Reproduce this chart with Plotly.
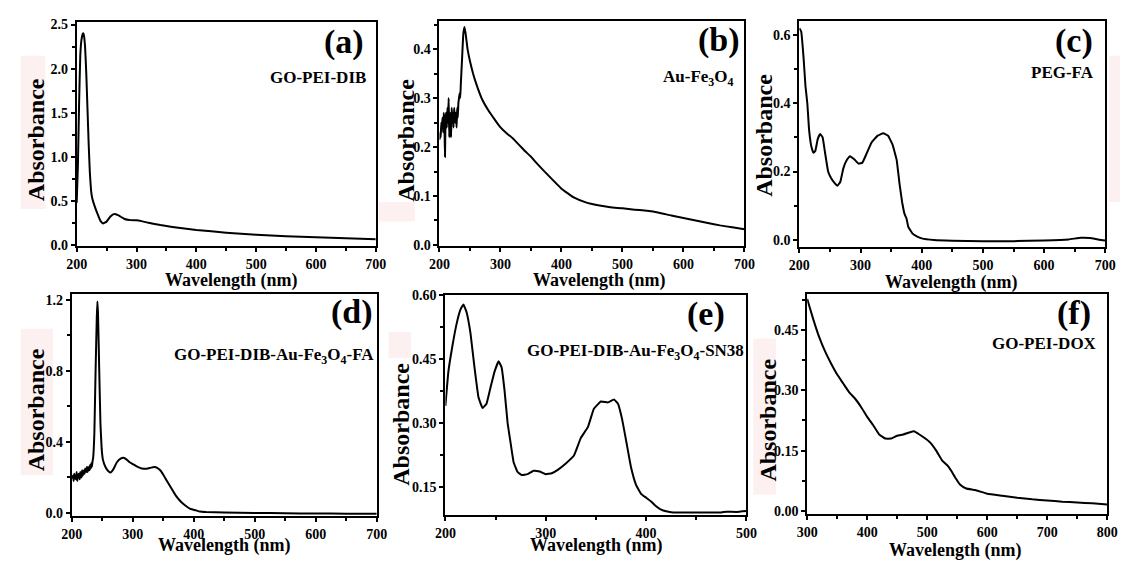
import plotly.graph_objects as go

W, H = 1131, 568

# ---------------- data ----------------
a_x = [200, 202, 204, 206, 208, 210, 211, 212, 214, 216, 218, 220, 222, 224, 226, 230, 235, 240, 244, 250, 256, 262,
       270, 280, 290, 300, 310, 320, 340, 360, 380, 400, 450, 500, 550, 600, 650, 700]
a_y = [0.48, 0.9, 1.6, 2.15, 2.33, 2.39, 2.40, 2.38, 2.25, 1.95, 1.55, 1.15, 0.82, 0.62, 0.53, 0.44, 0.35, 0.27, 0.245,
       0.265, 0.32, 0.35, 0.335, 0.295, 0.282, 0.28, 0.268, 0.252, 0.226, 0.205, 0.186, 0.17, 0.14, 0.117, 0.1,
       0.088, 0.076, 0.066]

b_x = [200, 201, 202, 203, 204, 205, 206, 207, 208, 209, 210, 211, 212, 213, 214, 215, 216, 217, 218, 219, 220, 221,
       222, 223, 224, 225, 226, 227, 228, 229, 230, 231, 232, 233, 234, 235, 237, 239, 241, 243, 246, 250, 255, 260,
       270, 280, 290, 300, 310, 320, 330, 340, 350, 360, 380, 400, 420, 440, 460, 480, 500, 520, 540, 560, 580, 600,
       620, 640, 660, 680, 700]
b_y = [0.215, 0.23, 0.22, 0.25, 0.24, 0.26, 0.23, 0.27, 0.25, 0.18, 0.26, 0.27, 0.24, 0.28, 0.25, 0.30, 0.22, 0.27,
       0.26, 0.22, 0.28, 0.25, 0.27, 0.24, 0.28, 0.26, 0.25, 0.27, 0.24, 0.28, 0.26, 0.29, 0.30, 0.31, 0.30, 0.33,
       0.38, 0.43, 0.445, 0.43, 0.40, 0.375, 0.35, 0.33, 0.297, 0.275, 0.257, 0.24, 0.228, 0.218, 0.205, 0.192,
       0.18, 0.166, 0.14, 0.115, 0.097, 0.087, 0.081, 0.077, 0.075, 0.072, 0.07, 0.066, 0.06, 0.055, 0.05, 0.045,
       0.04, 0.036, 0.032]

c_x = [200, 203, 207, 210, 213, 216, 220, 223, 226, 230, 234, 238, 242, 247, 252, 258, 262, 267, 272, 278, 283, 290,
       297, 303, 310, 318, 328, 337, 345, 352, 356, 359, 364, 368, 372, 375, 378, 385, 392, 400, 420, 450, 500, 550,
       600, 640, 660, 675, 690, 700]
c_y = [0.62, 0.61, 0.53, 0.45, 0.40, 0.32, 0.27, 0.255, 0.26, 0.295, 0.31, 0.30, 0.255, 0.2, 0.18, 0.165, 0.158, 0.17,
       0.21, 0.235, 0.245, 0.235, 0.223, 0.226, 0.253, 0.285, 0.305, 0.312, 0.305, 0.28, 0.255, 0.234, 0.16, 0.11,
       0.075, 0.063, 0.038, 0.018, 0.01, 0.004, -0.001, -0.003, -0.004, -0.004, -0.002, 0.001, 0.006, 0.005, 0.0,
       -0.002]

d_x = [200, 202, 203, 204, 205, 207, 208, 209, 210, 212, 213, 214, 216, 217, 218, 220, 221, 222, 224, 225, 226, 228,
       229, 230, 231, 232, 233, 234, 235, 237, 239, 241, 242, 243, 245, 247, 249, 251, 255, 260, 264, 268, 274, 280,
       285, 290, 295, 300, 305, 310, 315, 320, 325, 330, 336, 340, 345, 350, 355, 363, 370, 377, 384, 390, 395, 403,
       410, 420, 450, 500, 550, 600, 650, 700]
d_y = [0.195, 0.21, 0.18, 0.22, 0.20, 0.19, 0.23, 0.18, 0.21, 0.22, 0.19, 0.23, 0.20, 0.24, 0.21, 0.24, 0.22, 0.25,
       0.23, 0.26, 0.23, 0.26, 0.24, 0.27, 0.25, 0.28, 0.26, 0.29, 0.31, 0.45, 0.8, 1.1, 1.19, 1.12, 0.8, 0.5, 0.36,
       0.3, 0.26, 0.235, 0.228, 0.245, 0.285, 0.305, 0.31, 0.3, 0.285, 0.275, 0.265, 0.256, 0.25, 0.248, 0.25, 0.255,
       0.258, 0.253, 0.24, 0.215, 0.185, 0.14, 0.1, 0.07, 0.047, 0.032, 0.022, 0.015, 0.008, 0.005, 0.002, 0.0,
       -0.002, -0.003, -0.004, -0.005]

e_x = [200, 203, 207, 211, 215, 218, 221, 225, 229, 233, 237, 241, 245, 249, 253, 256, 259, 262, 265, 268, 272, 276,
       282, 288, 294, 300, 306, 312, 320, 328, 335, 342, 348, 355, 362, 368, 372, 376, 380, 385, 390, 395, 400, 405,
       410, 415, 420, 425, 440, 460, 475, 480, 490, 500]
e_y = [0.34, 0.42, 0.48, 0.53, 0.565, 0.577, 0.56, 0.51, 0.43, 0.36, 0.335, 0.345, 0.383, 0.42, 0.444, 0.43, 0.375,
       0.3, 0.253, 0.208, 0.185, 0.178, 0.18, 0.188, 0.186, 0.18, 0.182, 0.19, 0.205, 0.223, 0.265, 0.29, 0.333,
       0.35, 0.348, 0.355, 0.345, 0.31, 0.26, 0.196, 0.155, 0.134, 0.125, 0.116, 0.105, 0.097, 0.093, 0.091, 0.09,
       0.09, 0.0905, 0.092, 0.0915, 0.0935]

f_x = [300, 310, 320, 330, 340, 350, 360, 370, 380, 390, 400, 410, 420, 430, 440, 450, 460, 470, 478, 485, 495, 505,
       515, 525, 535, 540, 548, 555, 565, 580, 600, 625, 650, 675, 700, 725, 750, 775, 800]
f_y = [0.527, 0.477, 0.432, 0.396, 0.366, 0.339, 0.317, 0.295, 0.279, 0.258, 0.234, 0.213, 0.19, 0.18, 0.18, 0.187,
       0.19, 0.195, 0.198, 0.192, 0.182, 0.17, 0.15, 0.125, 0.111, 0.1, 0.08, 0.065, 0.056, 0.052, 0.043, 0.038,
       0.033, 0.029, 0.026, 0.023, 0.021, 0.019, 0.016]

panel_tags = ["(a)", "(b)", "(c)", "(d)", "(e)", "(f)"]
sample_names = ["GO-PEI-DIB", "Au-Fe<sub>3</sub>O<sub>4</sub>", "PEG-FA",
                "GO-PEI-DIB-Au-Fe<sub>3</sub>O<sub>4</sub>-FA",
                "GO-PEI-DIB-Au-Fe<sub>3</sub>O<sub>4</sub>-SN38", "GO-PEI-DOX"]
x_ticks = [[200, 300, 400, 500, 600, 700]] * 4 + [[200, 300, 400, 500], [300, 400, 500, 600, 700, 800]]
y_ticks = [[0.0, 0.5, 1.0, 1.5, 2.0, 2.5], [0.0, 0.1, 0.2, 0.3, 0.4], [0.0, 0.2, 0.4, 0.6],
           [0.0, 0.4, 0.8, 1.2], [0.15, 0.30, 0.45, 0.60], [0.00, 0.15, 0.30, 0.45]]
y_dec = [1, 1, 1, 1, 2, 2]
series = [(a_x, a_y), (b_x, b_y), (c_x, c_y), (d_x, d_y), (e_x, e_y), (f_x, f_y)]

# ---------------- layout geometry (pixels) ----------------
boxes = [(67, 372, 15, 245), (437, 748, 14, 245), (804, 1116, 14, 246),
         (62, 373, 294, 522), (443, 750, 295, 521), (812, 1118, 294, 520)]
x_ranges = [[200, 700], [200, 700], [200, 700], [200, 700], [200, 500], [300, 800]]
y_ranges = [[-0.011, 2.533], [-0.002, 0.458], [-0.021, 0.642], [-0.018, 1.233], [0.084, 0.60], [-0.008, 0.54]]
tag_pos = [(362, 36), (745, 34), (1105, 35), (371, 313), (730, 315), (1103, 314)]
name_pos = [(364, 72), (739, 73), (1107, 67), (372, 358), (750, 354), (1110, 345)]
ytitle_pos = [(25, 136), (402, 137), (768, 132), (25, 413), (398, 428), (772, 423)]
xtitle_pos = [(225, 280), (600, 280), (959, 282), (218, 552), (597, 552), (963, 557)]


def px(x):
    return x / W


def py(y):
    return 1 - y / H


FONT = "Liberation Serif"
fig = go.Figure()
ann = []
shapes = []

for i in range(6):
    n = "" if i == 0 else str(i + 1)
    fig.add_trace(go.Scatter(x=series[i][0], y=series[i][1], mode="lines",
                             line=dict(color="black", width=2, shape="spline", smoothing=0.3),
                             xaxis="x" + n, yaxis="y" + n, showlegend=False))
    l, r, t, b = boxes[i]
    dx = x_ticks[i][1] - x_ticks[i][0]
    dy = y_ticks[i][1] - y_ticks[i][0]
    common = dict(showgrid=False, zeroline=False, showline=True, linecolor="black", linewidth=2,
                  mirror=True, ticks="outside", ticklen=4, tickwidth=2, tickcolor="black",
                  tickfont=dict(family=FONT, size=14, color="black"))
    fig.layout["xaxis" + n] = dict(domain=[px(l), px(r)], range=x_ranges[i], anchor="y" + n,
                                   tickvals=x_ticks[i],
                                   ticktext=["<b>%d</b>" % v for v in x_ticks[i]],
                                   minor=dict(dtick=dx / 2, tick0=x_ticks[i][0], ticks="outside",
                                              ticklen=3, tickwidth=1.5, tickcolor="black"),
                                   **common)
    fig.layout["yaxis" + n] = dict(domain=[py(b), py(t)], range=y_ranges[i], anchor="x" + n,
                                   tickvals=y_ticks[i],
                                   ticktext=["<b>%.*f</b>" % (y_dec[i], v) for v in y_ticks[i]],
                                   minor=dict(dtick=dy / 2, tick0=y_ticks[i][0], ticks="outside",
                                              ticklen=3, tickwidth=1.5, tickcolor="black"),
                                   **common)
    ann.append(dict(x=px(tag_pos[i][0]), y=py(tag_pos[i][1]), xref="paper", yref="paper",
                    text="<b>%s</b>" % panel_tags[i], showarrow=False, xanchor="right", yanchor="middle",
                    font=dict(family=FONT, size=34, color="black")))
    ann.append(dict(x=px(name_pos[i][0]), y=py(name_pos[i][1]), xref="paper", yref="paper",
                    text="<b>%s</b>" % sample_names[i], showarrow=False, xanchor="right", yanchor="middle",
                    font=dict(family=FONT, size=17, color="black")))
    ann.append(dict(x=px(ytitle_pos[i][0]), y=py(ytitle_pos[i][1]), xref="paper", yref="paper",
                    text="<b>Absorbance</b>", showarrow=False, textangle=-90,
                    xanchor="center", yanchor="middle",
                    font=dict(family=FONT, size=24, color="black")))
    ann.append(dict(x=px(xtitle_pos[i][0]), y=py(xtitle_pos[i][1]), xref="paper", yref="paper",
                    text="<b>Wavelength (nm)</b>", showarrow=False,
                    xanchor="center", yanchor="middle",
                    font=dict(family=FONT, size=18, color="black")))

# faint pink patches seen behind some labels in the original scan
pink = [(10, 35, 50, 207), (375, 412, 200, 220), (1120, 1131, 50, 200),
        (10, 43, 330, 480), (385, 408, 333, 360), (757, 780, 340, 500)]
for (x0, x1, y0, y1) in pink:
    shapes.append(dict(type="rect", xref="paper", yref="paper", x0=px(x0), x1=px(x1),
                       y0=py(y1), y1=py(y0), fillcolor="#fcf0f0", line=dict(width=0), layer="below"))

fig.update_layout(width=W, height=H, margin=dict(l=0, r=0, t=0, b=0),
                  paper_bgcolor="white", plot_bgcolor="white",
                  annotations=ann, shapes=shapes)

fig.write_html("out.html")
